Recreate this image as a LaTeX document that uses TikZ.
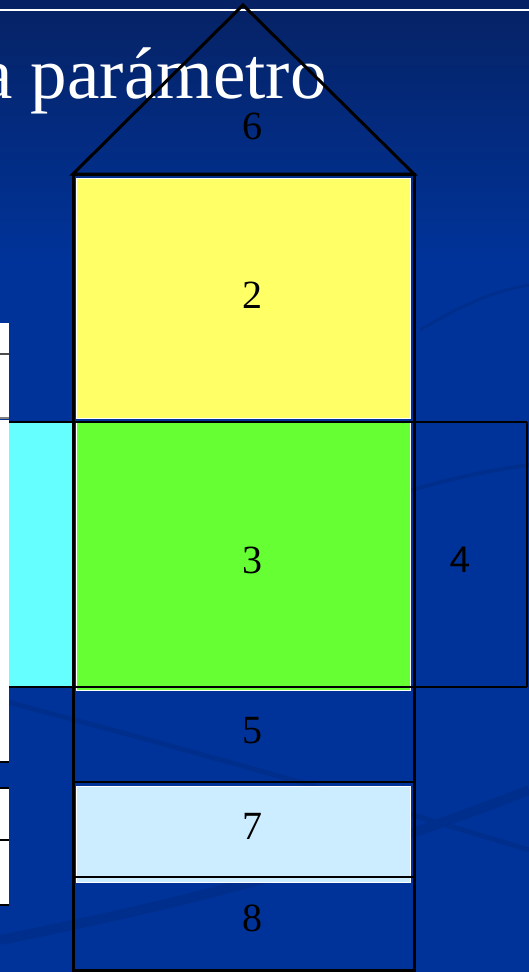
\documentclass[tikz,border=0pt]{standalone}
\usepackage{fontspec}
\setmainfont{Liberation Serif}
\newfontfamily\numsans{Liberation Sans}
\definecolor{bgtop}{RGB}{6,34,100}
\definecolor{bgmain}{RGB}{0,51,153}
\definecolor{swoosh}{RGB}{0,46,140}
\definecolor{yel}{RGB}{255,255,102}
\definecolor{grn}{RGB}{102,255,51}
\definecolor{cyn}{RGB}{102,255,255}
\definecolor{lblue}{RGB}{204,236,255}
\tikzset{
  outline/.style={draw=black, line width=3pt},
  thinline/.style={draw=black, line width=2.5pt},
  numlabel/.style={font=\fontsize{40}{44}\selectfont, text=black, inner sep=0pt},
  filler/.style={draw=white, line width=1pt}
}
\begin{document}
\begin{tikzpicture}[x=1pt,y=-1pt]
\useasboundingbox (0,0) rectangle (529,972);
\begin{scope}
\clip (0,0) rectangle (529,972);
% background
\fill[bgmain] (0,0) rectangle (529,972);
\shade[top color=bgtop, bottom color=bgmain] (0,0) rectangle (529,260);
% faint swooshes
\draw[swoosh, line width=5pt] (0,700) .. controls (150,740) and (300,780) .. (529,850);
\draw[swoosh, line width=10pt] (0,940) .. controls (200,900) and (350,860) .. (529,790);
\draw[swoosh, line width=4pt] (380,500) .. controls (440,480) and (490,470) .. (529,465);
\draw[swoosh, line width=3pt] (420,330) .. controls (470,300) and (500,290) .. (529,285);
% top white rule
\draw[white, line width=1.5pt] (0,10) -- (529,10);
% title
\node[anchor=base west, text=white, inner sep=0pt, font=\fontsize{73}{80}\selectfont] (title) at (-20,98) {a parámetro};
% left cut-off white table
\fill[white] (0,323) rectangle (9,418);
\fill[white] (0,420) rectangle (9,762);
\fill[white] (0,788) rectangle (9,905);
\draw[black!70, line width=1.5pt] (0,354) -- (9,354);
\draw[black!50, line width=1.5pt] (0,418) -- (9,418);
\draw[black, line width=1.5pt] (0,762) -- (9,762);
\draw[black, line width=1.5pt] (0,788) -- (9,788);
\draw[black, line width=1.5pt] (0,840) -- (9,840);
\draw[black, line width=1.5pt] (0,905) -- (9,905);
% fills
\fill[cyn] (9,422) rectangle (73,687);
\filldraw[fill=yel, filler] (76,178) rectangle (410,418);
\filldraw[fill=grn, filler] (76,422) rectangle (410,690);
\filldraw[fill=lblue, filler] (76,786) rectangle (410,882);
% outlines
\draw[outline] (73,174) -- (243,5) -- (414,174) -- cycle;
\draw[outline] (73,174) rectangle (414,970);
\draw[thinline] (9,422) -- (527,422);
\draw[thinline] (9,687) -- (527,687);
\draw[thinline] (527,422) -- (527,687);
\draw[thinline] (73,782) -- (414,782);
\draw[thinline] (73,877) -- (414,877);
\end{scope}
% labels
\node[numlabel] (n6) at (252,126) {6};
\node[numlabel] (n2) at (252,295) {2};
\node[numlabel] (n3) at (252,560) {3};
\node[numlabel, font=\numsans\fontsize{37}{40}\selectfont] (n4) at (460,560) {4};
\node[numlabel] (n5) at (252,731) {5};
\node[numlabel] (n7) at (252,826) {7};
\node[numlabel] (n8) at (252,918) {8};
\end{tikzpicture}
\end{document}
